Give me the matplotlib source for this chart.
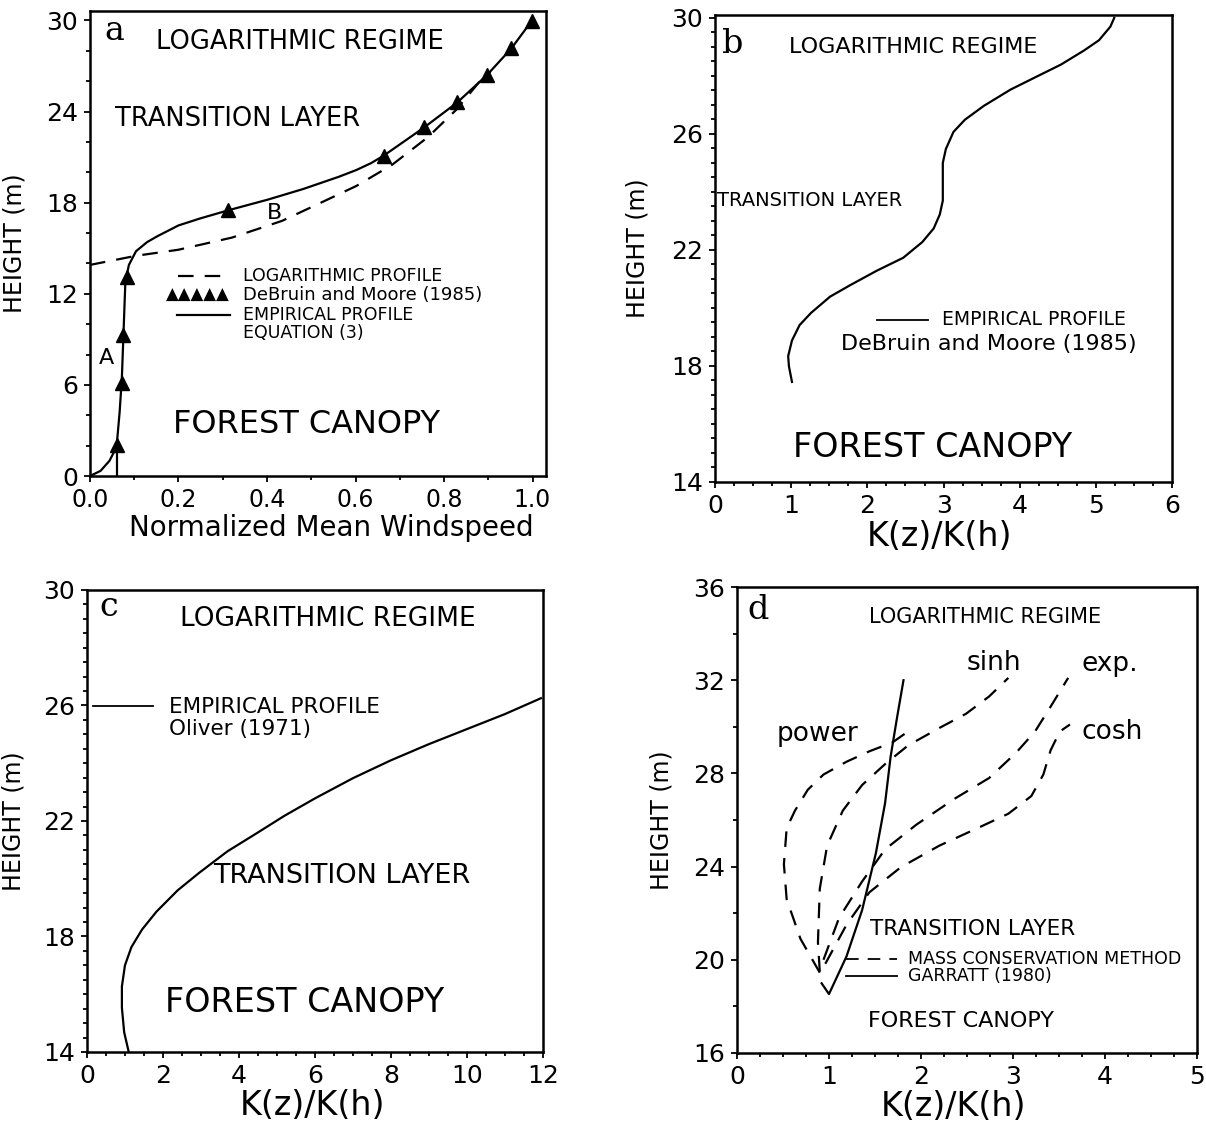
import matplotlib
matplotlib.use("Agg")
import matplotlib.pyplot as plt
from matplotlib.ticker import MultipleLocator, FormatStrFormatter

# ---------------- Panel a : normalized mean windspeed ----------------
a_emp_x = [0.0, 0.024, 0.044, 0.060, 0.067, 0.072, 0.076, 0.080, 0.088, 0.104,
           0.129, 0.153, 0.200, 0.249, 0.313, 0.402, 0.482, 0.562, 0.602, 0.635,
           0.664, 0.755, 0.830, 0.897, 0.952, 0.998]
a_emp_y = [0.0, 0.34, 1.0, 1.9, 4.2, 6.4, 9.6, 12.8, 13.9, 14.8,
           15.4, 15.8, 16.5, 16.96, 17.5, 18.2, 18.9, 19.7, 20.15, 20.6,
           21.1, 22.95, 24.6, 26.4, 28.15, 29.96]
a_log_x = [0.0, 0.104, 0.200, 0.321, 0.434, 0.522, 0.602, 0.683, 0.763, 0.827, 0.884, 0.905]
a_log_y = [13.9, 14.5, 14.9, 15.7, 16.8, 18.0, 19.1, 20.5, 22.3, 24.1, 26.1, 26.6]
a_obs_x = [0.060, 0.072, 0.075, 0.084, 0.313, 0.664, 0.755, 0.830, 0.897, 0.952, 0.998]
a_obs_y = [2.03, 6.1, 9.27, 13.1, 17.5, 21.1, 22.95, 24.6, 26.4, 28.15, 29.96]
a_base_x = [0.060, 0.060]
a_base_y = [0.0, 2.0]

# ---------------- Panel b : DeBruin and Moore ----------------
b_x = [1.01, 0.97, 0.96, 1.01, 1.11, 1.26, 1.51, 1.77, 2.12, 2.47, 2.72, 2.87,
       2.95, 2.99, 2.99, 2.99, 3.03, 3.13, 3.28, 3.53, 3.88, 4.24, 4.54, 4.84,
       5.04, 5.19, 5.24]
b_y = [17.45, 17.99, 18.34, 18.88, 19.41, 19.83, 20.39, 20.78, 21.28, 21.73, 22.27, 22.74,
       23.22, 23.70, 24.29, 25.0, 25.48, 26.07, 26.49, 26.97, 27.53, 28.0, 28.39, 28.87,
       29.23, 29.7, 30.0]

# ---------------- Panel c : Oliver (1971) ----------------
c_x = [1.10, 0.98, 0.92, 0.92, 1.00, 1.17, 1.45, 1.83, 2.39, 2.95, 3.70, 4.45,
       5.20, 6.00, 7.00, 8.00, 9.00, 10.00, 11.00, 11.95]
c_y = [14.0, 14.68, 15.53, 16.27, 17.0, 17.63, 18.24, 18.86, 19.6, 20.2, 20.95, 21.56,
       22.18, 22.78, 23.48, 24.1, 24.66, 25.18, 25.7, 26.25]

# ---------------- Panel d : mass conservation vs Garratt ----------------
d_garratt_x = [0.92, 1.00, 1.19, 1.36, 1.51, 1.61, 1.67, 1.74, 1.81]
d_garratt_y = [18.99, 18.53, 20.14, 22.13, 24.58, 26.73, 28.72, 30.4, 32.0]
d_power_x = [0.90, 0.69, 0.54, 0.51, 0.54, 0.63, 0.77, 0.94, 1.19, 1.44, 1.69, 1.86]
d_power_y = [19.45, 20.9, 22.6, 24.1, 25.65, 26.4, 27.3, 27.95, 28.5, 28.95, 29.33, 29.8]
d_sinh_x = [0.90, 0.88, 0.90, 0.98, 1.15, 1.36, 1.61, 1.86, 2.20, 2.49, 2.74, 2.95]
d_sinh_y = [19.5, 20.75, 23.05, 24.9, 26.4, 27.5, 28.4, 29.2, 29.95, 30.56, 31.3, 32.1]
d_exp_x = [0.94, 1.11, 1.36, 1.61, 1.95, 2.36, 2.74, 3.03, 3.24, 3.41, 3.60]
d_exp_y = [20.0, 21.8, 23.36, 24.74, 25.8, 26.9, 27.8, 28.87, 29.8, 30.87, 32.1]
d_cosh_x = [0.96, 1.19, 1.44, 1.78, 2.20, 2.62, 2.95, 3.20, 3.33, 3.41, 3.51, 3.62]
d_cosh_y = [19.83, 21.5, 22.9, 23.97, 24.9, 25.66, 26.27, 27.03, 27.95, 29.0, 29.8, 30.1]

FS = "DejaVu Sans"
SERIF = "DejaVu Serif"
LW = 1.6
DASH = (0, (7, 5))

fig = plt.figure(figsize=(12.06, 11.28), dpi=100)
axA = fig.add_axes([0.0746, 0.578, 0.378, 0.412])
axB = fig.add_axes([0.5929, 0.5727, 0.379, 0.414])
axC = fig.add_axes([0.0721, 0.0674, 0.378, 0.4096])
axD = fig.add_axes([0.6111, 0.0665, 0.3814, 0.4131])


def style(ax, xlim, ylim, xmaj, xmin, yticks, ymin, tsize=18):
    ax.set_xlim(*xlim)
    ax.set_ylim(*ylim)
    ax.xaxis.set_major_locator(MultipleLocator(xmaj))
    ax.xaxis.set_minor_locator(MultipleLocator(xmin))
    ax.set_yticks(yticks)
    ax.yaxis.set_minor_locator(MultipleLocator(ymin))
    ax.tick_params(which="both", direction="out", top=False, right=False,
                   width=1.3, labelsize=tsize, pad=4)
    ax.tick_params(which="major", length=4.5)
    ax.tick_params(which="minor", length=3)
    for s in ax.spines.values():
        s.set_linewidth(1.8)
    for lab in ax.get_xticklabels() + ax.get_yticklabels():
        lab.set_family(FS)


# ---------- a ----------
ax = axA
ax.plot(a_emp_x, a_emp_y, color="black", lw=LW)
ax.plot(a_log_x, a_log_y, color="black", lw=LW, linestyle=DASH)
ax.plot(a_base_x, a_base_y, color="black", lw=LW)
ax.plot(a_obs_x, a_obs_y, linestyle="none", marker="^", ms=10, color="black")
style(ax, (0, 1.03), (0, 30.6), 0.2, 0.1, list(range(0, 31, 6)), 2)
ax.xaxis.set_major_formatter(FormatStrFormatter("%.1f"))
ax.tick_params(axis="x", labelsize=17)
ax.set_xlabel("Normalized Mean Windspeed", fontsize=20, family=FS)
ax.xaxis.set_label_coords(0.53, -0.082)
ax.set_ylabel("HEIGHT (m)", fontsize=17, family=FS)
ax.yaxis.set_label_coords(-0.14, 0.5)
ax.text(0.054, 29.3, "a", fontsize=24, family=SERIF, ha="center", va="center")
ax.text(0.474, 28.6, "LOGARITHMIC REGIME", fontsize=18.5, family=FS, ha="center", va="center")
ax.text(0.333, 23.5, "TRANSITION LAYER", fontsize=18.5, family=FS, ha="center", va="center")
ax.text(0.49, 3.4, "FOREST CANOPY", fontsize=23, family=FS, ha="center", va="center")
ax.text(0.038, 7.8, "A", fontsize=16, family=FS, ha="center", va="center")
ax.text(0.418, 17.3, "B", fontsize=16, family=FS, ha="center", va="center")
ax.plot([0.20, 0.317], [13.2, 13.2], color="black", lw=LW, linestyle=DASH)
ax.plot([0.197, 0.317], [10.6, 10.6], color="black", lw=LW)
ax.text(0.345, 13.2, "LOGARITHMIC PROFILE", fontsize=12.5, family=FS, va="center")
ax.text(0.315, 11.9, "\u25b2\u25b2\u25b2\u25b2\u25b2", fontsize=12, family=FS, va="center", ha="right")
ax.text(0.345, 11.9, "DeBruin and Moore (1985)", fontsize=13, family=FS, va="center")
ax.text(0.345, 10.6, "EMPIRICAL PROFILE", fontsize=12.5, family=FS, va="center")
ax.text(0.345, 9.4, "EQUATION (3)", fontsize=12.5, family=FS, va="center")

# ---------- b ----------
ax = axB
ax.plot(b_x, b_y, color="black", lw=LW)
style(ax, (0, 6), (14, 30.1), 1, 0.25, list(range(14, 31, 4)), 0.5)
ax.set_xlabel("K(z)/K(h)", fontsize=24, family=FS)
ax.xaxis.set_label_coords(0.49, -0.082)
ax.set_ylabel("HEIGHT (m)", fontsize=17, family=FS)
ax.yaxis.set_label_coords(-0.144, 0.5)
ax.text(0.23, 29.1, "b", fontsize=24, family=SERIF, ha="center", va="center")
ax.text(2.6, 29.0, "LOGARITHMIC REGIME", fontsize=16, family=FS, ha="center", va="center")
ax.text(0.02, 23.71, "TRANSITION LAYER", fontsize=14, family=FS, ha="left", va="center")
ax.text(2.85, 15.19, "FOREST CANOPY", fontsize=24, family=FS, ha="center", va="center")
ax.plot([2.13, 2.80], [19.6, 19.6], color="black", lw=1.3)
ax.text(2.98, 19.6, "EMPIRICAL PROFILE", fontsize=13.5, family=FS, va="center")
ax.text(3.6, 18.77, "DeBruin and Moore (1985)", fontsize=16, family=FS, ha="center", va="center")

# ---------- c ----------
ax = axC
ax.plot(c_x, c_y, color="black", lw=LW)
style(ax, (0, 12), (14, 30), 2, 0.5, list(range(14, 31, 4)), 0.5)
ax.set_xlabel("K(z)/K(h)", fontsize=24, family=FS)
ax.xaxis.set_label_coords(0.495, -0.08)
ax.set_ylabel("HEIGHT (m)", fontsize=17, family=FS)
ax.yaxis.set_label_coords(-0.135, 0.5)
ax.text(0.56, 29.4, "c", fontsize=24, family=SERIF, ha="center", va="center")
ax.text(6.33, 29.0, "LOGARITHMIC REGIME", fontsize=19, family=FS, ha="center", va="center")
ax.plot([0.16, 1.75], [25.97, 25.97], color="black", lw=1.3)
ax.text(2.16, 25.95, "EMPIRICAL PROFILE", fontsize=15.5, family=FS, va="center")
ax.text(2.16, 25.2, "Oliver (1971)", fontsize=15.5, family=FS, va="center")
ax.text(6.7, 20.1, "TRANSITION LAYER", fontsize=19.5, family=FS, ha="center", va="center")
ax.text(5.74, 15.7, "FOREST CANOPY", fontsize=24, family=FS, ha="center", va="center")

# ---------- d ----------
ax = axD
ax.plot(d_garratt_x, d_garratt_y, color="black", lw=LW)
for xs, ys in [(d_power_x, d_power_y), (d_sinh_x, d_sinh_y),
               (d_exp_x, d_exp_y), (d_cosh_x, d_cosh_y)]:
    ax.plot(xs, ys, color="black", lw=LW, linestyle=DASH)
style(ax, (0, 5), (16, 36), 1, 0.25, list(range(16, 37, 4)), 2)
ax.set_xlabel("K(z)/K(h)", fontsize=24, family=FS)
ax.xaxis.set_label_coords(0.47, -0.08)
ax.set_ylabel("HEIGHT (m)", fontsize=17, family=FS)
ax.yaxis.set_label_coords(-0.139, 0.5)
ax.text(0.23, 35.0, "d", fontsize=24, family=SERIF, ha="center", va="center")
ax.text(2.7, 34.7, "LOGARITHMIC REGIME", fontsize=15, family=FS, ha="center", va="center")
ax.text(0.88, 29.7, "power", fontsize=19, family=FS, ha="center", va="center")
ax.text(2.79, 32.74, "sinh", fontsize=19, family=FS, ha="center", va="center")
ax.text(4.05, 32.7, "exp.", fontsize=19, family=FS, ha="center", va="center")
ax.text(4.08, 29.76, "cosh", fontsize=19, family=FS, ha="center", va="center")
ax.text(2.56, 21.33, "TRANSITION LAYER", fontsize=15.5, family=FS, ha="center", va="center")
ax.plot([1.19, 1.74], [20.03, 20.03], color="black", lw=1.3, linestyle=DASH)
ax.plot([1.19, 1.74], [19.3, 19.3], color="black", lw=1.3)
ax.text(1.86, 20.03, "MASS CONSERVATION METHOD", fontsize=12.5, family=FS, va="center")
ax.text(1.86, 19.3, "GARRATT (1980)", fontsize=12.5, family=FS, va="center")
ax.text(2.44, 17.38, "FOREST CANOPY", fontsize=16, family=FS, ha="center", va="center")

fig.savefig("out.png", dpi=100)
